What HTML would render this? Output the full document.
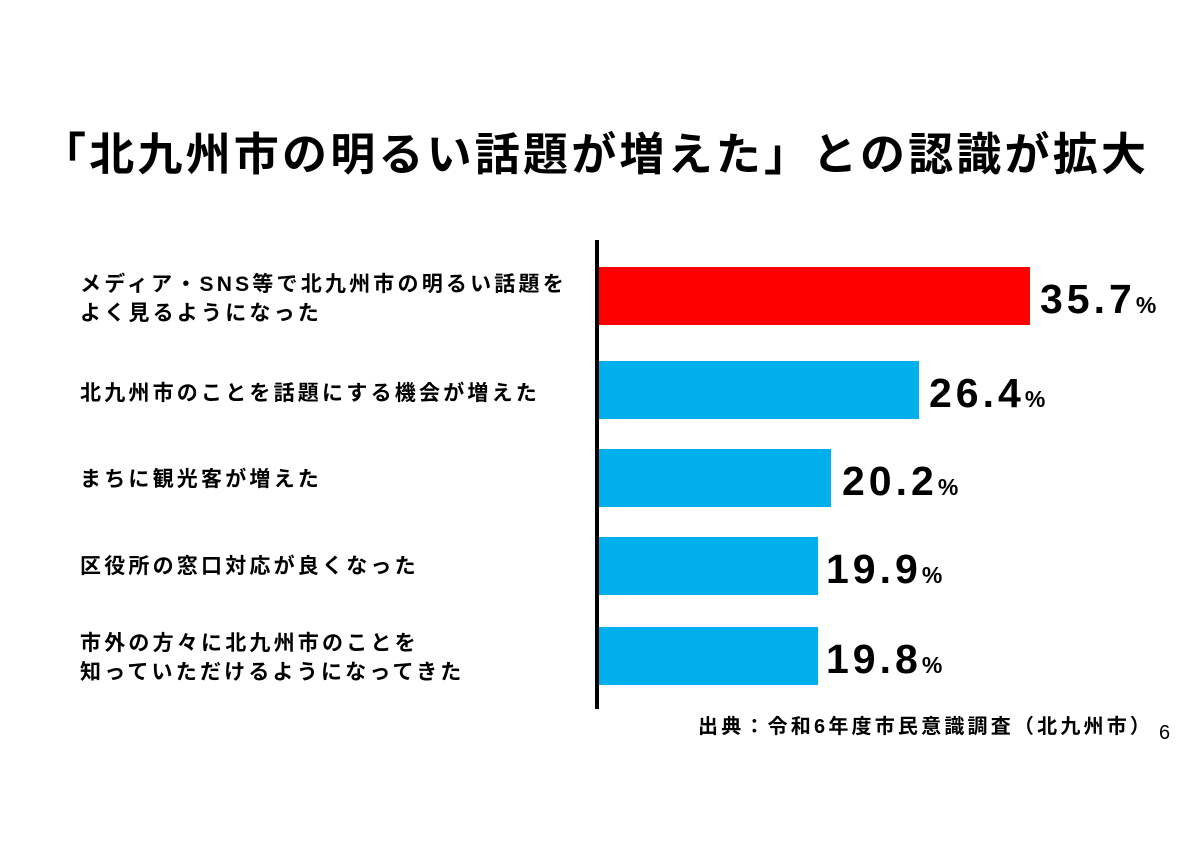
<!DOCTYPE html>
<html><head><meta charset="utf-8"><style>
body{margin:0;width:1200px;height:848px;background:#fff;position:relative;overflow:hidden;font-family:"Liberation Sans","Noto Sans CJK JP",sans-serif;color:#000}
.t{position:absolute;white-space:nowrap}
.title{left:41px;top:118px;font-size:45px;font-weight:bold;letter-spacing:3.2px}
.lab{left:80px;font-size:21px;font-weight:bold;line-height:29px;letter-spacing:3.2px}
.bar{position:absolute;left:599px;height:58px}
.v{font-size:41px;font-weight:bold;line-height:40px;letter-spacing:4px}
.v span{font-size:23px;letter-spacing:0}
</style></head><body>
<div class="t title">「北九州市の明るい話題が増えた」との認識が拡大</div>
<div style="position:absolute;left:595px;top:240px;width:4px;height:469px;background:#000"></div>
<div class="bar" style="top:267px;width:431px;background:#ff0000"></div>
<div class="bar" style="top:361px;width:320px;background:#00afec"></div>
<div class="bar" style="top:449px;width:232px;background:#00afec"></div>
<div class="bar" style="top:537px;width:219px;background:#00afec"></div>
<div class="bar" style="top:627px;width:219px;background:#00afec"></div>
<div class="t lab" style="top:270px">メディア・SNS等で北九州市の明るい話題を<br>よく見るようになった</div>
<div class="t lab" style="top:379px">北九州市のことを話題にする機会が増えた</div>
<div class="t lab" style="top:465px">まちに観光客が増えた</div>
<div class="t lab" style="top:552px">区役所の窓口対応が良くなった</div>
<div class="t lab" style="top:629px">市外の方々に北九州市のことを<br>知っていただけるようになってきた</div>
<div class="t v" style="left:1040px;top:279px">35.7<span>%</span></div>
<div class="t v" style="left:929px;top:373px">26.4<span>%</span></div>
<div class="t v" style="left:842px;top:461px">20.2<span>%</span></div>
<div class="t v" style="left:826px;top:549px">19.9<span>%</span></div>
<div class="t v" style="left:826px;top:639px">19.8<span>%</span></div>
<div class="t" style="left:698px;top:710px;font-size:20px;font-weight:bold;letter-spacing:3.2px">出典：令和6年度市民意識調査（北九州市）</div>
<div class="t" style="left:1159px;top:722px;font-size:20px">6</div>
</body></html>
